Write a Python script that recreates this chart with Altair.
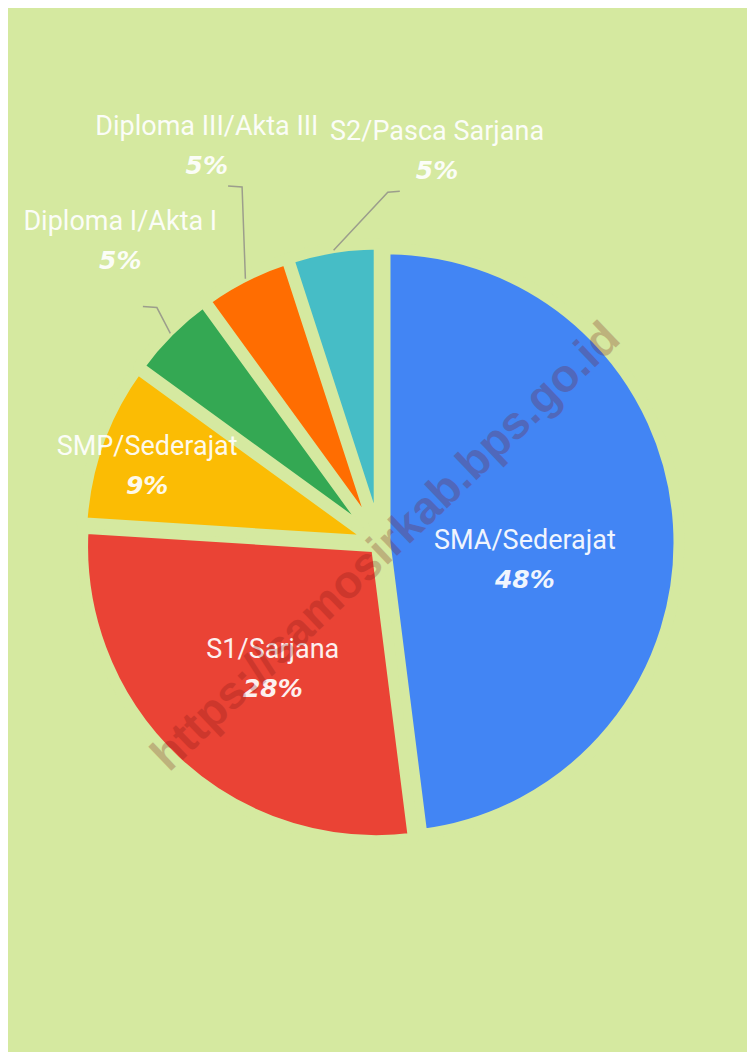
import math
import altair as alt
import pandas as pd

# ---- data ----
categories = ["SMA/Sederajat", "S1/Sarjana", "SMP/Sederajat",
              "Diploma I/Akta I", "Diploma III/Akta III", "S2/Pasca Sarjana"]
values = [48, 28, 9, 5, 5, 5]
colors = ["#4285F4", "#EA4335", "#FBBC04", "#34A853", "#FF6D01", "#46BDC6"]
watermark = "https://samosirkab.bps.go.id"

# ---- layout / style ----
W, H = 739, 1044
CX, CY = 372, 535          # pie centre (chart px)
SW = 11                    # gap stroke width
R = 294                    # outer radius (incl. half stroke)
D = 5                      # explode distance
BG = "#d5e9a0"
FONT = "Roboto"
PFONT = "DejaVu Sans"

# label block placement: (angle deg clockwise from top, radius)
label_polar = {
    "SMA/Sederajat": (97.0, 148),
    "S1/Sarjana": (219.6, 165),
    "SMP/Sederajat": (288.2, 243),
    "Diploma I/Akta I": (319.4, 396),
    "Diploma III/Akta III": (336.6, 431),
    "S2/Pasca Sarjana": (8.6, 395),
}
LCX, LCY = 370, 535
# leader lines: (elbow angle, elbow radius, tick dx)
leaders = {
    "Diploma I/Akta I": (316.8, 323, -14),
    "Diploma III/Akta III": (339.1, 381, -14),
    "S2/Pasca Sarjana": (1.6, 351, 12),
}

total = sum(values)
rows, lab_rows, line_rows = [], [], []
cum = 0
for i, (c, v) in enumerate(zip(categories, values)):
    s, e = cum, cum + v
    cum = e
    mid = (s + e) / 2 / total * 2 * math.pi
    rows.append(dict(cat=c, value=v, start=s, end=e,
                     cx=CX + D * math.sin(mid), cy=CY - D * math.cos(mid)))
    a, r = label_polar[c]
    lx = LCX + r * math.sin(math.radians(a))
    ly = LCY - r * math.cos(math.radians(a))
    lab_rows.append(dict(cat=c, x=lx, yname=ly - 20, ypct=ly + 19,
                         pct=f"{round(v / total * 100)}%"))
    if c in leaders:
        ea, er, tdx = leaders[c]
        r0 = R - SW / 2 + D + 3
        x0, y0 = CX + r0 * math.sin(mid), CY - r0 * math.cos(mid)
        x1 = LCX + er * math.sin(math.radians(ea))
        y1 = LCY - er * math.cos(math.radians(ea))
        line_rows += [dict(cat=c, k=0, x=x0, y=y0),
                      dict(cat=c, k=1, x=x1, y=y1),
                      dict(cat=c, k=2, x=x1 + tdx, y=y1 - 1)]

slices = pd.DataFrame(rows)
labels = pd.DataFrame(lab_rows)
lines = pd.DataFrame(line_rows)

theta_scale = alt.Scale(domain=[0, total], range=[0, 2 * math.pi])

arcs = alt.Chart(slices).mark_arc(
    radius=R, stroke=BG, strokeWidth=SW, strokeJoin="round",
).encode(
    theta=alt.Theta("start:Q", scale=theta_scale),
    theta2=alt.Theta2("end:Q"),
    x=alt.X("cx:Q", scale=None),
    y=alt.Y("cy:Q", scale=None),
    color=alt.Color("cat:N", scale=alt.Scale(domain=categories, range=colors), legend=None),
)

leader_lines = alt.Chart(lines).mark_line(color="#9c9e8c", strokeWidth=1.5).encode(
    x=alt.X("x:Q", scale=None),
    y=alt.Y("y:Q", scale=None),
    detail="cat:N",
    order="k:Q",
)

names = alt.Chart(labels).mark_text(
    font=FONT, fontSize=27, color="white", opacity=0.92,
    align="center", baseline="middle",
).encode(x=alt.X("x:Q", scale=None), y=alt.Y("yname:Q", scale=None), text="cat:N")

pcts = alt.Chart(labels).mark_text(
    font=PFONT, fontSize=25, fontWeight="bold", fontStyle="italic",
    color="white", opacity=0.92, align="center", baseline="middle",
).encode(x=alt.X("x:Q", scale=None), y=alt.Y("ypct:Q", scale=None), text="pct:N")

wm = alt.Chart(pd.DataFrame({"t": [watermark]})).mark_text(
    font="Liberation Sans", fontSize=46, fontWeight="bold",
    color="#7a1414", opacity=0.25, angle=316.4,
    align="center", baseline="middle",
).encode(x=alt.value(378), y=alt.value(539), text="t:N")

chart = alt.layer(arcs, leader_lines, names, pcts, wm).properties(
    width=W, height=H, background=BG, padding=0,
    autosize=alt.AutoSizeParams(type="none"),
).configure_view(stroke=None)

chart.save("out.html", embed_options={"renderer": "svg", "actions": False})
